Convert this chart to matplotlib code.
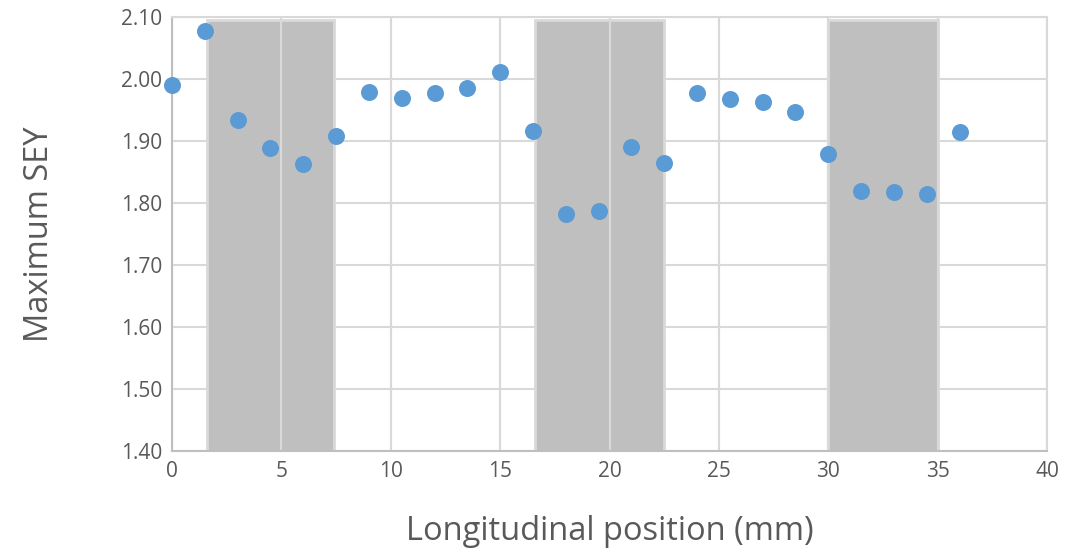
import matplotlib.pyplot as plt
from matplotlib.patches import Rectangle

plt.rcParams['font.family'] = ['Open Sans', 'DejaVu Sans']

# position (mm) and maximum SEY
pos = [0, 1.5, 3, 4.5, 6, 7.5, 9, 10.5, 12, 13.5, 15, 16.5, 18, 19.5, 21, 22.5,
       24, 25.5, 27, 28.5, 30, 31.5, 33, 34.5, 36]
sey = [1.990, 2.077, 1.934, 1.889, 1.863, 1.908, 1.979, 1.969, 1.977, 1.985, 2.011,
       1.916, 1.782, 1.787, 1.890, 1.864, 1.977, 1.968, 1.963, 1.947, 1.879,
       1.819, 1.817, 1.814, 1.914]

# shaded bands (start, end) in mm
bands = [(1.6, 7.4), (16.6, 22.5), (30.0, 35.0)]
band_top = 2.095

fig = plt.figure(figsize=(10.73, 5.53), dpi=100)
ax = fig.add_axes([172 / 1073, 1 - 451 / 553, (1047 - 172) / 1073, (451 - 17) / 553])

ax.set_xlim(0, 40)
ax.set_ylim(1.40, 2.10)
ax.set_xticks(range(0, 41, 5))
ax.set_yticks([1.40, 1.50, 1.60, 1.70, 1.80, 1.90, 2.00, 2.10])
ax.set_yticklabels(['%.2f' % v for v in ax.get_yticks()])

ax.grid(color='#d9d9d9', linewidth=1.5, zorder=0)
ax.set_axisbelow(True)
for s in ax.spines.values():
    s.set_color('#d9d9d9')
    s.set_linewidth(1.5)
ax.spines['left'].set_color('#bfbfbf')
ax.spines['bottom'].set_color('#bfbfbf')

for a, b in bands:
    ax.add_patch(Rectangle((a, 1.40), b - a, band_top - 1.40, facecolor='#bfbfbf',
                           edgecolor='#d9d9d9', linewidth=2, zorder=1))
# keep the vertical grid lines visible over the bands
for x in ax.get_xticks():
    ax.axvline(x, color='#d9d9d9', linewidth=1.5, zorder=1.5)

ax.scatter(pos, sey, s=150, color='#5b9bd5', zorder=3, linewidths=0, clip_on=False)

ax.tick_params(length=0, labelsize=15, colors='#595959', pad=7)
ax.set_xlabel('Longitudinal position (mm)', fontsize=23.5, color='#595959', labelpad=24)
ax.set_ylabel('Maximum SEY', fontsize=23.5, color='#595959', labelpad=47)

plt.savefig('out.png')
